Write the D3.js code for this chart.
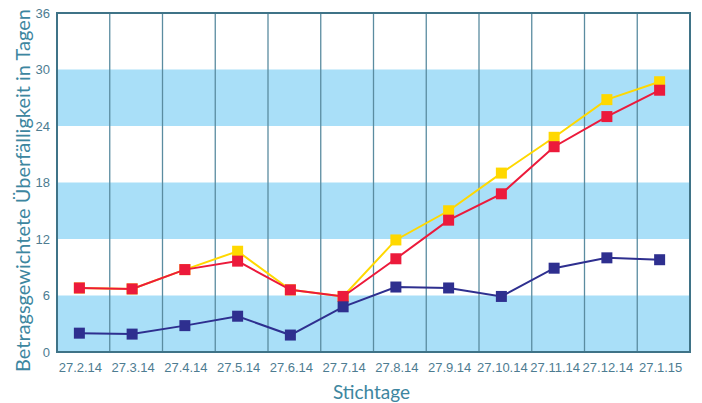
<!DOCTYPE html>
<html>
<head>
<meta charset="utf-8">
<script src="https://cdn.jsdelivr.net/npm/d3@7"></script>
<style>
  body { margin: 0; background: #fff; }
</style>
</head>
<body>
<div id="chart"></div>
<script>
// data
const dates = ['27.2.14', '27.3.14', '27.4.14', '27.5.14', '27.6.14', '27.7.14',
  '27.8.14', '27.9.14', '27.10.14', '27.11.14', '27.12.14', '27.1.15']
const yellowVals = [6.8, 6.7, 8.75, 10.7, 6.6, 5.9, 11.9, 15.0, 19.0, 22.8, 26.8, 28.7]
const redVals = [6.8, 6.7, 8.75, 9.65, 6.6, 5.9, 9.9, 14.0, 16.8, 21.8, 25.0, 27.8]
const blueVals = [2.0, 1.9, 2.8, 3.8, 1.8, 4.8, 6.9, 6.8, 5.9, 8.9, 10.0, 9.8]
const yTicks = [0, 6, 12, 18, 24, 30, 36]
const bands = [[0, 6], [12, 18], [24, 30]]

const width = 702,
  height = 403
const margin = { top: 13, right: 12, bottom: 51, left: 57 }
const innerW = width - margin.left - margin.right
const innerH = height - margin.top - margin.bottom

const svg = d3.select('#chart')
  .append('svg')
  .attr('width', width)
  .attr('height', height)

const g = svg.append('g')
  .attr('transform', `translate(${margin.left},${margin.top})`)

const x = d3.scaleBand()
  .domain(dates)
  .range([0, innerW])

const y = d3.scaleLinear()
  .domain([0, 36])
  .range([innerH, 0])

const px = d => x(d) + x.bandwidth() / 2 - 4

// light blue stripes
g.selectAll('rect.band')
  .data(bands)
  .enter()
  .append('rect')
  .attr('class', 'band')
  .attr('x', 0)
  .attr('width', innerW)
  .attr('y', d => y(d[1]))
  .attr('height', d => y(d[0]) - y(d[1]))
  .attr('fill', '#a9dff8')

// vertical separators between dates
g.selectAll('line.vgrid')
  .data(dates.slice(1))
  .enter()
  .append('line')
  .attr('class', 'vgrid')
  .attr('x1', d => x(d))
  .attr('x2', d => x(d))
  .attr('y1', 0)
  .attr('y2', innerH)
  .attr('stroke', '#5a8ca0')
  .attr('stroke-width', 1.3)

// frame
g.append('rect')
  .attr('x', 0)
  .attr('y', 0)
  .attr('width', innerW)
  .attr('height', innerH)
  .attr('fill', 'none')
  .attr('stroke', '#3f7387')
  .attr('stroke-width', 2)

// axes
const yAxis = d3.axisLeft(y)
  .tickValues(yTicks)
  .tickSize(0)
  .tickPadding(7)

const xAxis = d3.axisBottom(x)
  .tickSize(0)
  .tickPadding(11)

const yG = g.append('g').call(yAxis)
const xG = g.append('g')
  .attr('transform', `translate(0,${innerH})`)
  .call(xAxis)

;[yG, xG].forEach(a => {
  a.select('.domain').remove()
  a.selectAll('text')
    .attr('fill', '#4d7c91')
    .style('font-family', 'Liberation Sans, Arial, sans-serif')
    .style('font-size', '13px')
})
xG.selectAll('text').attr('dx', -3)

// series lines + square markers
const line = d3.line()
  .x((d, i) => px(dates[i]))
  .y(d => y(d))

const series = [
  { vals: yellowVals, color: '#ffd800' },
  { vals: redVals, color: '#ec1a3b' },
  { vals: blueVals, color: '#2e2f8f' }
]

series.forEach(s => {
  g.append('path')
    .datum(s.vals)
    .attr('d', line)
    .attr('fill', 'none')
    .attr('stroke', s.color)
    .attr('stroke-width', 2)

  g.selectAll(null)
    .data(s.vals)
    .enter()
    .append('rect')
    .attr('x', (d, i) => px(dates[i]) - 5.5)
    .attr('y', d => y(d) - 5.5)
    .attr('width', 11)
    .attr('height', 11)
    .attr('fill', s.color)
})

// axis titles
svg.append('text')
  .attr('x', margin.left + innerW / 2 - 2)
  .attr('y', 399)
  .attr('text-anchor', 'middle')
  .attr('fill', '#3d86a0')
  .style('font-family', 'Lato, sans-serif')
  .style('font-size', '19px')
  .text('Stichtage')

svg.append('text')
  .attr('transform', `translate(30,${margin.top + innerH / 2 + 8}) rotate(-90)`)
  .attr('text-anchor', 'middle')
  .attr('fill', '#3d86a0')
  .style('font-family', 'Lato, sans-serif')
  .style('font-size', '20px')
  .text('Betragsgewichtete Überfälligkeit in Tagen')
</script>
</body>
</html>
